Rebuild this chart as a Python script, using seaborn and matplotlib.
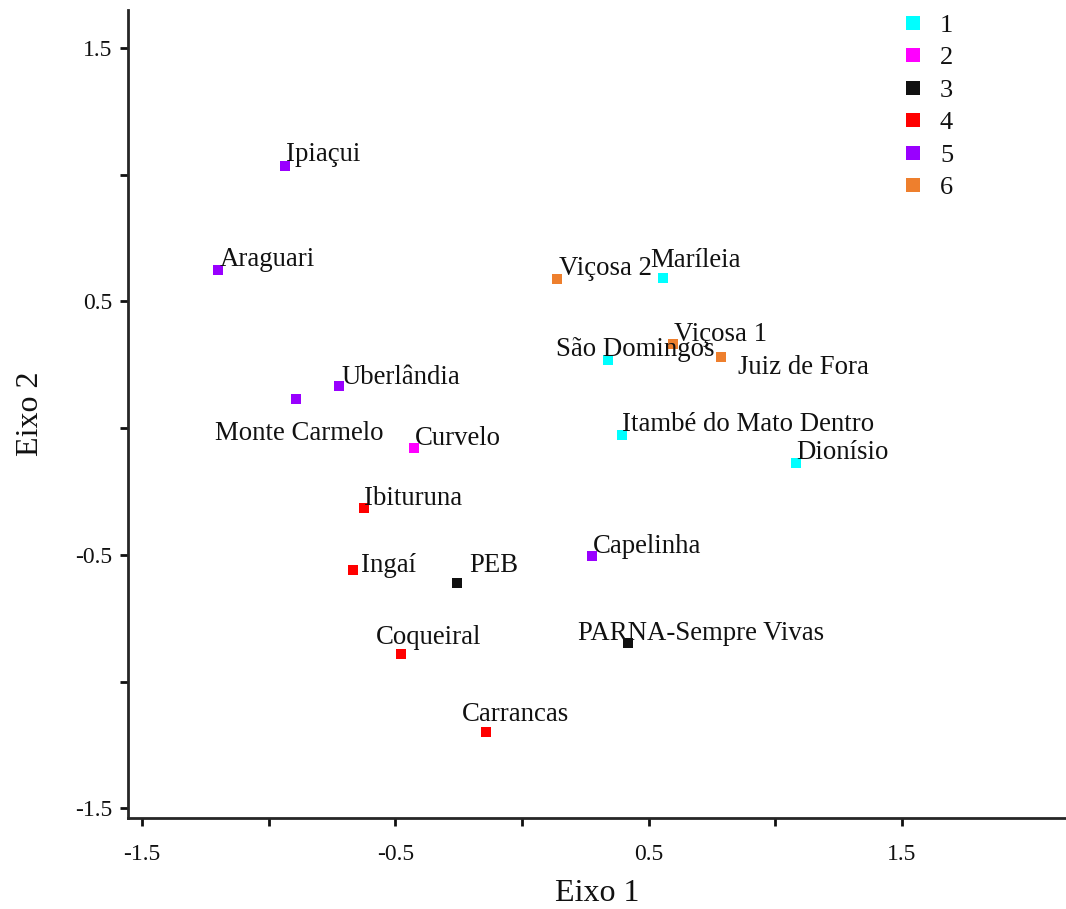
import pandas as pd
import matplotlib.pyplot as plt
import seaborn as sns

# site names, scores on the two axes and cluster group
sites = ["Ipiaçui", "Araguari", "Uberlândia", "Monte Carmelo", "Curvelo",
         "Ibituruna", "Ingaí", "PEB", "Coqueiral", "Carrancas", "Capelinha",
         "PARNA-Sempre Vivas", "Itambé do Mato Dentro", "Dionísio",
         "São Domingos", "Viçosa 1", "Juiz de Fora", "Viçosa 2", "Maríleia"]
eixo1 = [-0.935, -1.20, -0.722, -0.892, -0.426, -0.624, -0.667, -0.257, -0.477,
         -0.142, 0.276, 0.418, 0.395, 1.081, 0.339, 0.596, 0.785, 0.138, 0.556]
eixo2 = [1.034, 0.623, 0.166, 0.114, -0.079, -0.316, -0.560, -0.611, -0.892,
         -1.199, -0.505, -0.848, -0.028, -0.138, 0.268, 0.331, 0.280, 0.588, 0.592]
grupo = ["5", "5", "5", "5", "2", "4", "4", "3", "4", "4", "5",
         "3", "1", "1", "1", "6", "6", "6", "1"]

group_order = ["1", "2", "3", "4", "5", "6"]
palette = {"1": "#00ffff", "2": "#ff00ff", "3": "#111111",
           "4": "#ff0000", "5": "#9900ff", "6": "#ee7f2d"}

# label offsets (pixels) from each point, left edge / vertical centre of text
label_offsets = {
    "Ipiaçui": (1, 11), "Araguari": (2, 11), "Uberlândia": (2, 9),
    "Monte Carmelo": (-81, -34), "Curvelo": (1, 10), "Ibituruna": (0, 10),
    "Ingaí": (8, 5), "PEB": (12, 18), "Coqueiral": (-25, 17),
    "Carrancas": (-24, 18), "Capelinha": (1, 10), "PARNA-Sempre Vivas": (-50, 10),
    "Itambé do Mato Dentro": (0, 11), "Dionísio": (0, 11),
    "São Domingos": (-52, 11), "Viçosa 1": (1, 10), "Juiz de Fora": (17, -10),
    "Viçosa 2": (2, 11), "Maríleia": (-13, 18),
}

df = pd.DataFrame({"site": sites, "x": eixo1, "y": eixo2, "grupo": grupo})

sns.set_theme(style="ticks")
plt.rcParams['font.family'] = ['Liberation Serif', 'DejaVu Serif']
plt.rcParams['axes.linewidth'] = 2
plt.rcParams['text.color'] = '#111111'
plt.rcParams['axes.labelcolor'] = '#111111'

fig = plt.figure(figsize=(10.66, 9.09), dpi=100)
ax = fig.add_axes([0.120, 0.100, 0.880, 0.889])

sns.scatterplot(data=df, x="x", y="y", hue="grupo", hue_order=group_order,
                palette=palette, marker="s", s=55, linewidth=0, ax=ax)

for _, r in df.iterrows():
    ax.annotate(r["site"], (r["x"], r["y"]), xytext=label_offsets[r["site"]],
                textcoords="offset pixels", ha="left", va="center",
                fontsize=19.3, color="#111111")

ax.set_xlim(-1.555, 2.147)
ax.set_ylim(-1.538, 1.649)
ticks = [-1.5, -1.0, -0.5, 0.0, 0.5, 1.0, 1.5]
ax.set_xticks(ticks)
ax.set_yticks(ticks)
ax.set_xticklabels(["-1.5", "", "-0.5", "", "0.5", "", "1.5"])
ax.set_yticklabels(["-1.5", "", "-0.5", "", "0.5", "", "1.5"])
ax.tick_params(direction="out", length=6, width=2, labelsize=17, pad=5,
               colors="#111111")
ax.tick_params(axis="x", pad=13)
sns.despine(ax=ax)

ax.set_xlabel("Eixo 1", fontsize=23, labelpad=10)
ax.set_ylabel("Eixo 2", fontsize=23, labelpad=22)

leg = ax.legend(loc="upper right", bbox_to_anchor=(0.905, 1.025), frameon=False,
                fontsize=19, handletextpad=0.0, labelspacing=0.34,
                markerscale=1.4, title=None)

fig.savefig("out.png", dpi=100)
